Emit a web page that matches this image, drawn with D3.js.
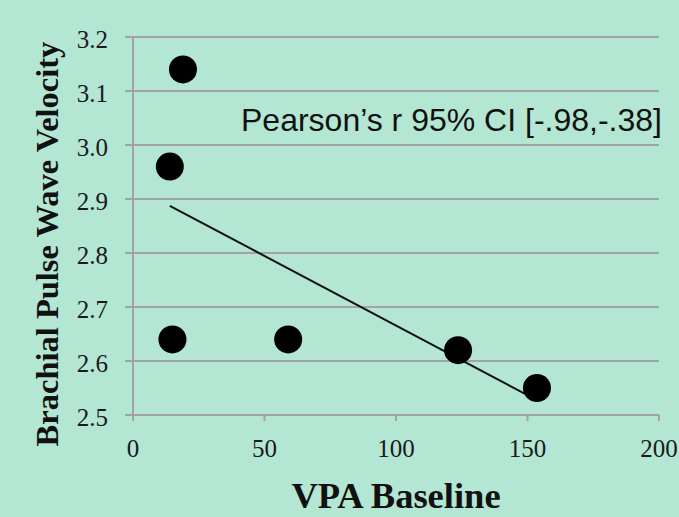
<!DOCTYPE html>
<html>
<head>
<meta charset="utf-8">
<script src="https://cdn.jsdelivr.net/npm/d3@7"></script>
<style>
  body { margin: 0; background: #b3e6d3; }
  svg { display: block; }
</style>
</head>
<body>
<div id="chart"></div>
<script>
// data
var vpaBaseline = [19, 14, 15, 59, 123.6, 153.6];
var pulseVelocity = [3.14, 2.96, 2.64, 2.64, 2.62, 2.55];
var xTicks = [0, 50, 100, 150, 200];
var yTicks = [2.5, 2.6, 2.7, 2.8, 2.9, 3.0, 3.1, 3.2];
var annotation = "Pearson\u2019s r 95% CI [-.98,-.38]";

var width = 679, height = 517;
var margin = {top: 37, right: 20, bottom: 102, left: 133};

var svg = d3.select("#chart").append("svg")
    .attr("width", width)
    .attr("height", height);

svg.append("rect")
    .attr("width", width)
    .attr("height", height)
    .attr("fill", "#b3e6d3");

var x = d3.scaleLinear().domain([0, 200]).range([margin.left, 659]);
var y = d3.scaleLinear().domain([2.5, 3.2]).range([415, margin.top]);

var gridColor = "#a3a3a3";

// horizontal gridlines + y ticks
svg.selectAll(".grid")
    .data(yTicks)
    .enter().append("line")
    .attr("x1", x(0) - 8)
    .attr("x2", x(200))
    .attr("y1", function (d) { return y(d); })
    .attr("y2", function (d) { return y(d); })
    .attr("stroke", gridColor)
    .attr("stroke-width", 2);

// y axis line
svg.append("line")
    .attr("x1", x(0)).attr("x2", x(0))
    .attr("y1", y(3.2)).attr("y2", y(2.5) + 6)
    .attr("stroke", gridColor)
    .attr("stroke-width", 2);

// x ticks
svg.selectAll(".xtick")
    .data(xTicks)
    .enter().append("line")
    .attr("x1", function (d) { return x(d); })
    .attr("x2", function (d) { return x(d); })
    .attr("y1", y(2.5))
    .attr("y2", y(2.5) + 6)
    .attr("stroke", gridColor)
    .attr("stroke-width", 2);

var tickFont = "'Liberation Serif', 'Times New Roman', serif";

svg.selectAll(".ylab")
    .data(yTicks)
    .enter().append("text")
    .attr("x", 108)
    .attr("y", function (d) { return y(d) + 11; })
    .attr("text-anchor", "end")
    .style("font-family", tickFont)
    .style("font-size", "25px")
    .style("fill", "#1a1a1a")
    .text(function (d) { return d3.format(".1f")(d); });

svg.selectAll(".xlab")
    .data(xTicks)
    .enter().append("text")
    .attr("x", function (d) { return x(d); })
    .attr("y", 457)
    .attr("text-anchor", "middle")
    .style("font-family", tickFont)
    .style("font-size", "25px")
    .style("fill", "#1a1a1a")
    .text(function (d) { return d; });

// least squares trend line
var mx = d3.mean(vpaBaseline), my = d3.mean(pulseVelocity);
var sxy = d3.sum(vpaBaseline, function (v, i) { return (v - mx) * (pulseVelocity[i] - my); });
var sxx = d3.sum(vpaBaseline, function (v) { return (v - mx) * (v - mx); });
var slope = sxy / sxx, intercept = my - slope * mx;
var xr = d3.extent(vpaBaseline);

svg.append("line")
    .attr("x1", x(xr[0]))
    .attr("y1", y(intercept + slope * xr[0]))
    .attr("x2", x(xr[1]))
    .attr("y2", y(intercept + slope * xr[1]))
    .attr("stroke", "#111")
    .attr("stroke-width", 2);

svg.selectAll(".dot")
    .data(vpaBaseline)
    .enter().append("circle")
    .attr("cx", function (d) { return x(d); })
    .attr("cy", function (d, i) { return y(pulseVelocity[i]); })
    .attr("r", 14)
    .attr("fill", "#000");

svg.append("text")
    .attr("x", 241)
    .attr("y", 131)
    .style("font-family", "'Liberation Sans', Arial, sans-serif")
    .style("font-size", "32px")
    .style("fill", "#111")
    .text(annotation);

svg.append("text")
    .attr("x", 396)
    .attr("y", 508)
    .attr("text-anchor", "middle")
    .style("font-family", tickFont)
    .style("font-weight", "bold")
    .style("font-size", "36.5px")
    .style("fill", "#111")
    .text("VPA Baseline");

svg.append("text")
    .attr("transform", "translate(58,244) rotate(-90)")
    .attr("text-anchor", "middle")
    .style("font-family", tickFont)
    .style("font-weight", "bold")
    .style("font-size", "32.5px")
    .style("fill", "#111")
    .text("Brachial Pulse Wave Velocity");
</script>
</body>
</html>
